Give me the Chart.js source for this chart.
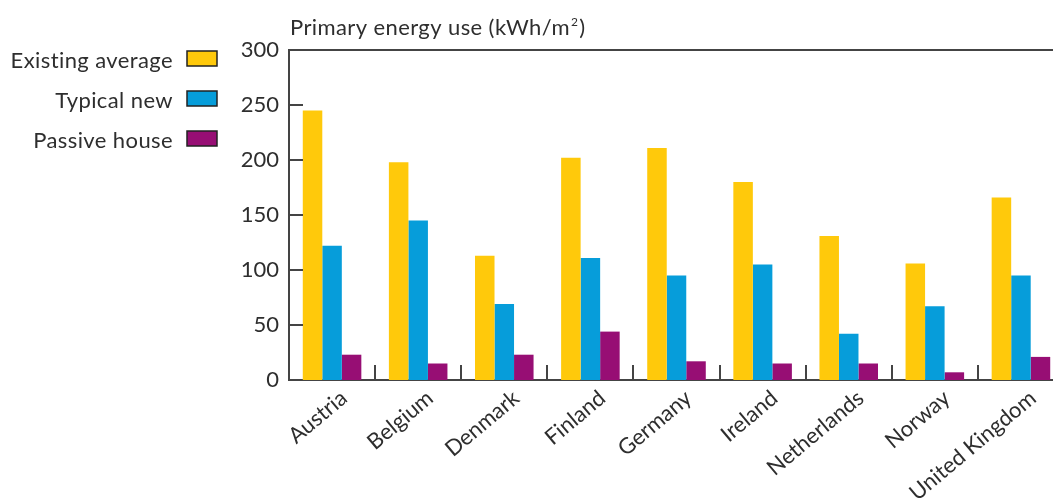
<!DOCTYPE html>
<html>
<head>
<meta charset="utf-8">
<script src="https://cdn.jsdelivr.net/npm/chart.js@4.4.1/dist/chart.umd.min.js"></script>
<style>
  html, body { margin: 0; padding: 0; background: #fff; overflow: hidden; }
  #wrap { width: 1064px; height: 503px; }
</style>
</head>
<body>
<div id="wrap"><canvas id="c" width="1064" height="503"></canvas></div>
<script>
// Primary energy use per country, by dwelling type (kWh/m²)
const countries = ['Austria', 'Belgium', 'Denmark', 'Finland', 'Germany', 'Ireland', 'Netherlands', 'Norway', 'United Kingdom'];
const existingAverage = [245, 198, 113, 202, 211, 180, 131, 106, 166];
const typicalNew      = [122, 145, 69, 111, 95, 105, 42, 67, 95];
const passiveHouse    = [23, 15, 23, 44, 17, 15, 15, 7, 21];
const yTicks = [0, 50, 100, 150, 200, 250, 300];

const FONT = 'Lato, "Open Sans", sans-serif';
const FS = 22;
const TEXT = '#2e2e2e';
const AXIS = '#444';

// Legend on the left (label text, swatch on the right), axis title,
// inward y tick marks, top frame line and category separators.
const decor = {
  id: 'decor',
  afterDraw(chart) {
    const ctx = chart.ctx;
    const { left, right, top, bottom } = chart.chartArea;
    const x = chart.scales.x, y = chart.scales.y;
    ctx.save();

    // frame: top line at the axis maximum
    ctx.strokeStyle = AXIS;
    ctx.lineWidth = 2;
    ctx.beginPath();
    const yTop = y.getPixelForValue(yTicks[yTicks.length - 1]);
    ctx.moveTo(left, yTop); ctx.lineTo(right + 20, yTop);
    ctx.stroke();

    // inward y tick marks
    ctx.beginPath();
    yTicks.slice(1, -1).forEach(v => {
      const py = Math.round(y.getPixelForValue(v));
      ctx.moveTo(left, py); ctx.lineTo(left + 14, py);
    });
    ctx.stroke();

    // category separators rising from the x axis
    ctx.beginPath();
    for (let i = 1; i < countries.length; i++) {
      const px = Math.round((x.getPixelForTick(i - 1) + x.getPixelForTick(i)) / 2);
      ctx.moveTo(px, bottom); ctx.lineTo(px, bottom - 15);
    }
    ctx.stroke();

    // axis title with superscript
    ctx.fillStyle = TEXT;
    ctx.textAlign = 'left';
    ctx.textBaseline = 'alphabetic';
    ctx.letterSpacing = '0.4px';
    ctx.font = FS + 'px ' + FONT;
    const t1 = 'Primary energy use (kWh/m';
    ctx.fillText(t1, left + 1, 35);
    const w = ctx.measureText(t1).width;
    ctx.font = '12px ' + FONT;
    ctx.fillText('2', left + 1 + w + 1, 26);
    const w2 = ctx.measureText('2').width;
    ctx.font = FS + 'px ' + FONT;
    ctx.fillText(')', left + 1 + w + w2 + 2, 35);

    // legend
    const rows = [68, 108, 148];
    chart.data.datasets.forEach((ds, i) => {
      ctx.font = FS + 'px ' + FONT;
      ctx.fillStyle = TEXT;
      ctx.textAlign = 'right';
      ctx.fillText(ds.label, 173, rows[i]);
      ctx.fillStyle = ds.backgroundColor;
      ctx.fillRect(187, rows[i] - 17, 30, 15);
      ctx.strokeStyle = '#222';
      ctx.lineWidth = 1.5;
      ctx.strokeRect(187, rows[i] - 17, 30, 15);
    });
    ctx.restore();
  }
};

new Chart(document.getElementById('c'), {
  type: 'bar',
  data: {
    labels: countries,
    datasets: [
      { label: 'Existing average', data: existingAverage, backgroundColor: '#FFC90B' },
      { label: 'Typical new', data: typicalNew, backgroundColor: '#069DDA' },
      { label: 'Passive house', data: passiveHouse, backgroundColor: '#970E74' }
    ]
  },
  options: {
    responsive: false,
    devicePixelRatio: 1,
    animation: false,
    layout: { padding: { top: 50, right: 0, left: 0, bottom: 0 } },
    plugins: { legend: { display: false }, tooltip: { enabled: false }, title: { display: false } },
    datasets: { bar: { categoryPercentage: 0.68, barPercentage: 1.0, borderWidth: 0 } },
    scales: {
      x: {
        offset: true,
        grid: { display: false, drawTicks: false },
        border: { display: true, color: AXIS, width: 2 },
        ticks: {
          autoSkip: false,
          minRotation: 40,
          maxRotation: 40,
          padding: 5,
          labelOffset: 12,
          color: TEXT,
          font: { family: FONT, size: FS }
        },
        afterFit(s) { s.height = 123; }
      },
      y: {
        min: 0,
        max: 300,
        grid: { display: false, drawTicks: false },
        border: { display: true, color: AXIS, width: 2 },
        ticks: {
          stepSize: 50,
          padding: 10,
          color: TEXT,
          font: { family: FONT, size: FS },
          callback: v => yTicks.includes(v) ? String(v) : ''
        },
        afterFit(s) { s.width = 289; }
      }
    }
  },
  plugins: [decor]
});
</script>
</body>
</html>
